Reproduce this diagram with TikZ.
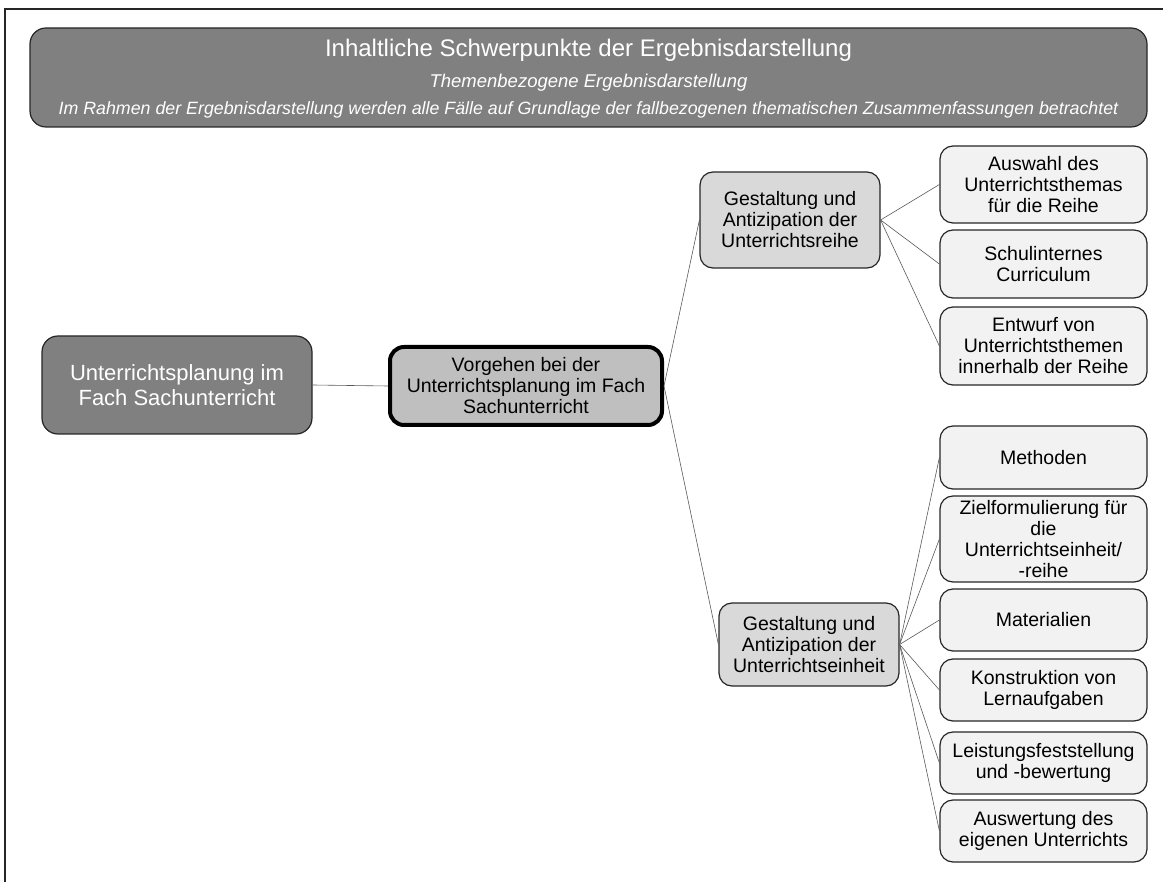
\documentclass[tikz,border=0pt]{standalone}
\usepackage{fontspec}
\setmainfont{Liberation Sans}
\begin{document}
\begin{tikzpicture}[x=1pt,y=-1pt,
  box/.style={draw=black!85, line width=1.2pt, rounded corners=13pt, inner sep=0pt, align=center,
    font=\fontsize{19.5}{21}\selectfont},
  leafbox/.style={box, fill=black!5, minimum width=207pt},
  midbox/.style={box, fill=black!15, minimum width=180pt},
  link/.style={draw=black!65, line width=0.6pt}
]
\useasboundingbox (0,0) rectangle (1163,882);
% frame edges
\draw[black!85, line width=1.3pt] (1163,9) -- (5,9) -- (5,882);

% heading panel
\node[box, fill=black!50, minimum width=1117pt, minimum height=99pt, rounded corners=16pt] (head) at (588.5,77.5) {};
\node[anchor=base, text=white, font=\fontsize{24}{26}\selectfont, inner sep=0pt] (htitle) at (588.5,57) {Inhaltliche Schwerpunkte der Ergebnisdarstellung};
\node[anchor=base, text=white, font=\fontsize{18.5}{20}\selectfont\itshape, inner sep=0pt] (hsub) at (588.5,88) {Themenbezogene Ergebnisdarstellung};
\node[anchor=base, text=white, font=\fontsize{17.8}{20}\selectfont\itshape, inner sep=0pt] (hnote) at (588.5,115) {Im Rahmen der Ergebnisdarstellung werden alle Fälle auf Grundlage der fallbezogenen thematischen Zusammenfassungen betrachtet};

% main branch
\node[box, fill=black!50, text=white, minimum width=270pt, minimum height=98pt, rounded corners=16pt,
  font=\fontsize{22}{25}\selectfont] (root) at (177,385) {Unterrichtsplanung im\\Fach Sachunterricht};
\node[box, fill=black!25, draw=black, line width=4pt, minimum width=272pt, minimum height=78pt, rounded corners=14pt] (plan) at (526,386)
  {Vorgehen bei der\\Unterrichtsplanung im Fach\\Sachunterricht};

% second level
\node[midbox, minimum height=96pt] (reihe) at (790,220) {Gestaltung und\\Antizipation der\\Unterrichtsreihe};
\node[midbox, minimum height=83pt] (einheit) at (809,644.5) {Gestaltung und\\Antizipation der\\Unterrichtseinheit};

% leaves of the series branch
\node[leafbox, minimum height=77pt] (thema) at (1043.5,184.5) {Auswahl des\\Unterrichtsthemas\\für die Reihe};
\node[leafbox, minimum height=68pt] (curr) at (1043.5,264) {Schulinternes\\Curriculum};
\node[leafbox, minimum height=78pt] (entwurf) at (1043.5,346) {Entwurf von\\Unterrichtsthemen\\innerhalb der Reihe};

% leaves of the lesson branch
\node[leafbox, minimum height=63pt] (meth) at (1043.5,457.5) {Methoden};
\node[leafbox, minimum height=86pt] (ziel) at (1043.5,539) {Zielformulierung für\\die\\Unterrichtseinheit/\\-reihe};
\node[leafbox, minimum height=62pt] (mat) at (1043.5,620) {Materialien};
\node[leafbox, minimum height=62pt] (konst) at (1043.5,690) {Konstruktion von\\Lernaufgaben};
\node[leafbox, minimum height=62pt] (leist) at (1043.5,763) {Leistungsfeststellung\\und -bewertung};
\node[leafbox, minimum height=62pt] (ausw) at (1043.5,831) {Auswertung des\\eigenen Unterrichts};

% connectors
\draw[link] (root.east) -- (plan.west);
\draw[link] (plan.east) -- (reihe.west);
\draw[link] (plan.east) -- (einheit.west);
\foreach \leaf in {thema,curr,entwurf} \draw[link] (reihe.east) -- (\leaf.west);
\foreach \leaf in {meth,ziel,mat,konst,leist,ausw} \draw[link] (einheit.east) -- (\leaf.west);
\end{tikzpicture}
\end{document}
